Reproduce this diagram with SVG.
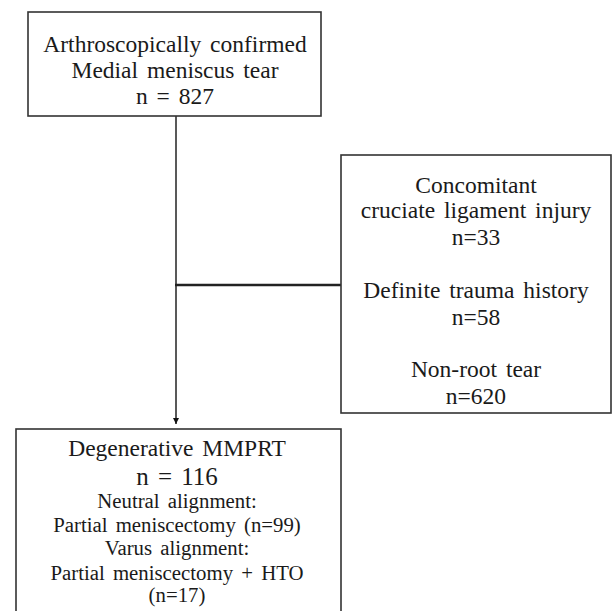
<svg xmlns="http://www.w3.org/2000/svg" width="613" height="611" viewBox="0 0 613 611">
<style>
.box{fill:#fff;stroke:#333;stroke-width:1.6}
text{font-family:"Liberation Serif","Times New Roman",serif;fill:#1a1a1a;text-anchor:middle;word-spacing:3px}
.t22{font-size:23.5px}
.t24{font-size:25px}
.t19{font-size:20.8px}
.conn{stroke:#222;fill:none}
</style>
<defs>
<marker id="arr" viewBox="0 0 10 10" refX="10" refY="5" markerWidth="6" markerHeight="7" markerUnits="userSpaceOnUse" orient="auto">
<path d="M0,0 L10,5 L0,10 z" fill="#111"/>
</marker>
</defs>
<rect width="613" height="611" fill="#fff"/>
<g id="connectors">
<line class="conn" x1="176" y1="116" x2="176" y2="424" stroke-width="1.5" marker-end="url(#arr)"/>
<line class="conn" x1="175" y1="285" x2="341" y2="285" stroke-width="2.6"/>
</g>
<g id="node-top">
<rect class="box" x="28" y="12" width="293" height="104"/>
<text class="t22" x="175" y="52">Arthroscopically confirmed</text>
<text class="t22" x="175" y="78">Medial meniscus tear</text>
<text class="t22" x="175" y="104">n = 827</text>
</g>
<g id="node-excluded">
<rect class="box" x="341" y="155" width="270" height="258"/>
<text class="t22" x="476" y="193">Concomitant</text>
<text class="t22" x="476" y="218">cruciate ligament injury</text>
<text class="t22" x="476" y="245">n=33</text>
<text class="t22" x="476" y="298">Definite trauma history</text>
<text class="t22" x="476" y="325">n=58</text>
<text class="t22" x="476" y="377">Non-root tear</text>
<text class="t22" x="476" y="404">n=620</text>
</g>
<g id="node-bottom">
<rect class="box" x="16" y="429" width="325" height="190"/>
<text class="t22" x="177" y="456">Degenerative MMPRT</text>
<text class="t24" x="177" y="485">n = 116</text>
<text class="t19" x="177" y="508">Neutral alignment:</text>
<text class="t19" x="177" y="532">Partial meniscectomy (n=99)</text>
<text class="t19" x="177" y="555">Varus alignment:</text>
<text class="t19" x="177" y="580">Partial meniscectomy + HTO</text>
<text class="t19" x="177" y="602">(n=17)</text>
</g>
</svg>
